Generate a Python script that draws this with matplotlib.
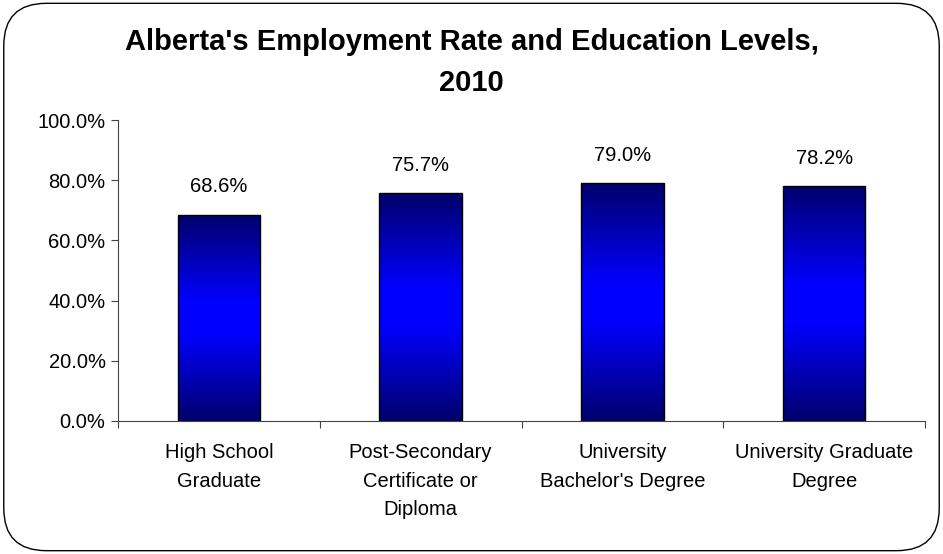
import numpy as np
import matplotlib.pyplot as plt
from matplotlib.patches import FancyBboxPatch
from matplotlib.colors import LinearSegmentedColormap
from matplotlib.ticker import MultipleLocator, FuncFormatter

plt.rcParams['font.family'] = ['Liberation Sans', 'DejaVu Sans']

categories = ["High School\nGraduate", "Post-Secondary\nCertificate or\nDiploma",
              "University\nBachelor's Degree", "University Graduate\nDegree"]
rates = [68.6, 75.7, 79.0, 78.2]
title = "Alberta's Employment Rate and Education Levels,\n2010"

fig = plt.figure(figsize=(9.43, 5.54), dpi=100)
# rounded chart border
border = FancyBboxPatch((0.004, 0.006), 0.992, 0.988, boxstyle="round,pad=0,rounding_size=0.045",
                        transform=fig.transFigure, facecolor='white', edgecolor='black',
                        linewidth=1.0, mutation_aspect=943 / 554, zorder=-1)
fig.patches.append(border)

ax = fig.add_axes([118 / 943, 1 - 421 / 554, (925 - 118) / 943, (421 - 120) / 554])
ax.set_facecolor('none')

# dark-bright-dark blue fill for the bars
blues = LinearSegmentedColormap.from_list(
    'blues', [(0.0, (0, 0, 0.42)), (0.42, (0, 0, 1.0)), (0.58, (0, 0, 1.0)), (1.0, (0, 0, 0.42))])
grad = np.linspace(1, 0, 256).reshape(-1, 1)

x = np.arange(len(rates))
bars = ax.bar(x, rates, width=0.41, facecolor='none', edgecolor='black', linewidth=1.0, zorder=3)
for b, v in zip(bars, rates):
    im = ax.imshow(grad, cmap=blues, aspect='auto', zorder=2,
                   extent=[b.get_x(), b.get_x() + b.get_width(), 0, b.get_height()])
    im.set_clip_path(b)
    ax.text(b.get_x() + b.get_width() / 2, v + 6, f"{v:.1f}%", ha='center', va='bottom', fontsize=14.5)

ax.set_xlim(-0.5, len(rates) - 0.5)
ax.set_ylim(0, 100)
ax.yaxis.set_major_locator(MultipleLocator(20))
ax.yaxis.set_major_formatter(FuncFormatter(lambda v, p: f"{v:.1f}%"))
ax.set_xticks(np.arange(-0.5, len(rates), 1.0))
ax.set_xticklabels([])
ax.set_xticks(x, minor=True)
ax.set_xticklabels(categories, minor=True, fontsize=14.5, linespacing=1.63, va='top')
ax.tick_params(axis='x', which='minor', length=0, pad=16)
ax.tick_params(axis='x', which='major', direction='out', length=5, width=0.8, color='#444444')
ax.tick_params(axis='y', direction='out', length=5, width=0.8, labelsize=14.5, pad=4, color='#444444')
for s in ['top', 'right']:
    ax.spines[s].set_visible(False)
ax.spines['left'].set_color('#444444')
ax.spines['bottom'].set_color('#444444')

fig.text(0.5, 1 - 62.5 / 554, title, ha='center', va='center', fontsize=21,
         fontweight='bold', linespacing=1.6)

fig.savefig('out.png', dpi=100)
